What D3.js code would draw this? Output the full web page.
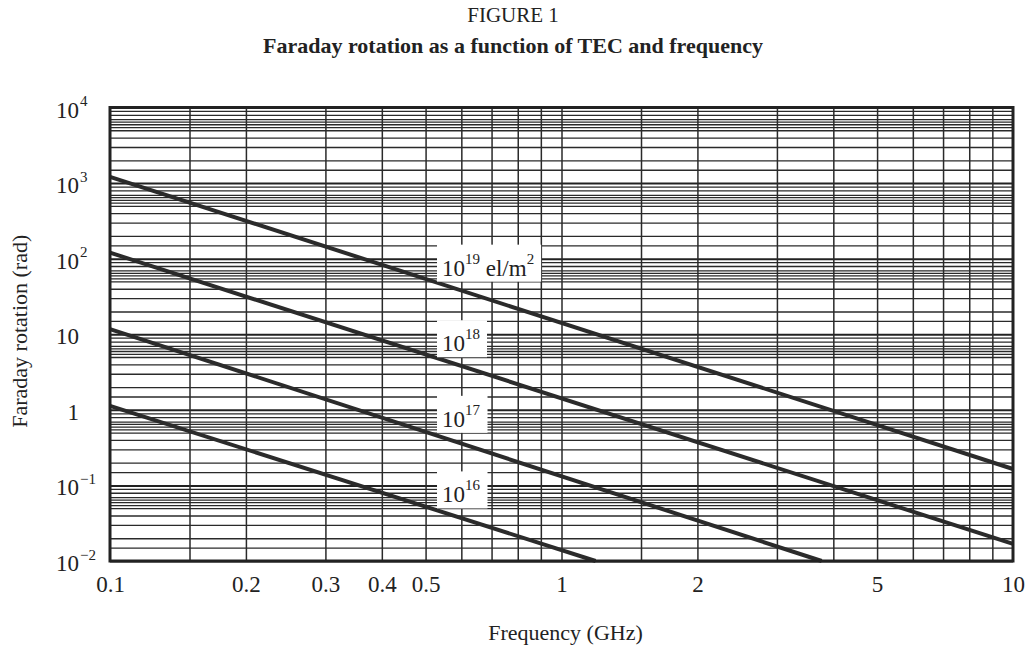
<!DOCTYPE html>
<html>
<head>
<meta charset="utf-8">
<script src="https://cdn.jsdelivr.net/npm/d3@7"></script>
<style>
  body { margin: 0; background: #fff; }
  text { font-family: "Liberation Serif", "Times New Roman", serif; fill: #222; }
</style>
</head>
<body>
<div class="chart"></div>
<script>
var margin = {top: 107.5, right: 14, bottom: 89, left: 110},
    width = 1027 - margin.left - margin.right,
    height = 650 - margin.top - margin.bottom;

// axis ticks
var freqTicks = [0.1, 0.2, 0.3, 0.4, 0.5, 1, 2, 5, 10];
var radTicks = [1e4, 1e3, 1e2, 10, 1, 0.1, 0.01];
var radTickBase = ["10", "10", "10", "10", "1", "10", "10"];
var radTickExp = ["4", "3", "2", "", "", "\u22121", "\u22122"];

// grid lines
var freqGrid = [0.15, 0.2, 0.3, 0.4, 0.5, 0.6, 0.7, 0.8, 0.9, 1, 1.5, 2, 3, 4, 5, 6, 7, 8, 9];
var radGridMult = [1.5, 2, 3, 4, 5, 5.5, 6, 6.5, 7, 8, 9];
var radDecades = [1e-2, 1e-1, 1, 10, 1e2, 1e3, 1e4];

// curves (TEC exponent, frequency GHz, rotation rad)
var tecExp = ["19", "18", "17", "16"];
var tecFreq = [[0.1, 10], [0.1, 10], [0.1, 3.77], [0.1, 1.19]];
var tecRad = [[1210, 0.165], [120, 0.0168], [11.7, 0.01], [1.13, 0.01]];
var tecLabelRad = [100, 10, 1, 0.1];
var tecLabelFreq = 0.53;

var xScale = d3.scaleLog().domain([0.1, 10]).range([0, width]);
var yScale = d3.scaleLog().domain([0.01, 1e4]).range([height, 0]);

var svg = d3.select(".chart").append("svg")
    .attr("width", 1027)
    .attr("height", 650);

svg.append("text")
    .attr("x", 513).attr("y", 22)
    .attr("text-anchor", "middle")
    .style("font-size", "21px")
    .text("FIGURE 1");

svg.append("text")
    .attr("x", 513).attr("y", 53)
    .attr("text-anchor", "middle")
    .style("font-size", "22px")
    .style("font-weight", "bold")
    .text("Faraday rotation as a function of TEC and frequency");

var g = svg.append("g")
    .attr("transform", "translate(" + margin.left + "," + margin.top + ")");

// horizontal grid
var radGrid = [];
radDecades.slice(0, -1).forEach(function(d) {
  radGridMult.forEach(function(m) { radGrid.push(d * m); });
});

g.append("g")
    .attr("class", "ygrid")
    .call(d3.axisLeft(yScale).tickValues(radGrid).tickSize(-width).tickFormat(""))
    .call(function(a) { a.select(".domain").remove(); })
    .selectAll("line")
    .attr("stroke", "#2a2a2a")
    .attr("stroke-width", 1.3);

g.append("g")
    .attr("class", "ydec")
    .call(d3.axisLeft(yScale).tickValues(radDecades).tickSize(-width).tickFormat(""))
    .call(function(a) { a.select(".domain").remove(); })
    .selectAll("line")
    .attr("stroke", "#222")
    .attr("stroke-width", 2);

// vertical grid
g.append("g")
    .attr("class", "xgrid")
    .attr("transform", "translate(0," + height + ")")
    .call(d3.axisBottom(xScale).tickValues(freqGrid).tickSize(-height).tickFormat(""))
    .call(function(a) { a.select(".domain").remove(); })
    .selectAll("line")
    .attr("stroke", "#2a2a2a")
    .attr("stroke-width", 1.5);

// x tick labels
g.append("g")
    .attr("class", "xaxis")
    .attr("transform", "translate(0," + height + ")")
    .call(d3.axisBottom(xScale).tickValues(freqTicks).tickSize(0).tickPadding(15)
      .tickFormat(function(d) { return d3.format("~g")(d); }))
    .call(function(a) { a.select(".domain").remove(); })
    .selectAll("text")
    .style("font-size", "23px")
    .style("font-family", "Liberation Serif")
    .attr("fill", "#222");

// y tick labels with superscripts
var yTicks = g.append("g").attr("class", "yaxis")
  .selectAll("g").data(radTicks).enter().append("g")
    .attr("transform", function(d) { return "translate(0," + yScale(d) + ")"; });

yTicks.append("text")
    .attr("x", -31).attr("y", 10)
    .attr("text-anchor", "end")
    .style("font-size", "23px")
    .text(function(d, i) { return radTickBase[i]; });

yTicks.append("text")
    .attr("x", -30).attr("y", -1.5)
    .style("font-size", "15px")
    .text(function(d, i) { return radTickExp[i]; });

// curves
var line = d3.line()
    .x(function(d) { return xScale(d[0]); })
    .y(function(d) { return yScale(d[1]); });

tecExp.forEach(function(e, i) {
  var pts = tecFreq[i].map(function(f, j) { return [f, tecRad[i][j]]; });
  g.append("path")
      .datum(pts)
      .attr("d", line)
      .attr("fill", "none")
      .attr("stroke", "#2b2b2b")
      .attr("stroke-width", 4);
});

// curve labels
tecExp.forEach(function(e, i) {
  var lg = g.append("g");
  var t = lg.append("text")
      .attr("x", xScale(tecLabelFreq) + 5)
      .attr("y", yScale(tecLabelRad[i]) + 17)
      .style("font-size", "23px");
  t.append("tspan").text("10");
  t.append("tspan").attr("dy", -12).style("font-size", "15px").text(e);
  if (i == 0) {
    t.append("tspan").attr("dy", 12).text("\u00a0el/m");
    t.append("tspan").attr("dy", -12).style("font-size", "15px").text("2");
  }
  var bb = t.node().getBBox();
  lg.insert("rect", "text")
      .attr("x", bb.x - 5)
      .attr("y", bb.y - 6)
      .attr("width", bb.width + 12)
      .attr("height", bb.height + 7)
      .attr("fill", "#fff");
});

// frame
g.append("rect")
    .attr("width", width).attr("height", height)
    .attr("fill", "none")
    .attr("stroke", "#222")
    .attr("stroke-width", 3);

// axis titles
svg.append("text")
    .attr("x", margin.left + width / 2 + 4).attr("y", 640)
    .attr("text-anchor", "middle")
    .style("font-size", "22px")
    .text("Frequency (GHz)");

svg.append("text")
    .attr("transform", "translate(27," + (margin.top + height / 2 - 3) + ") rotate(-90)")
    .attr("text-anchor", "middle")
    .style("font-size", "22px")
    .text("Faraday rotation (rad)");
</script>
</body>
</html>
